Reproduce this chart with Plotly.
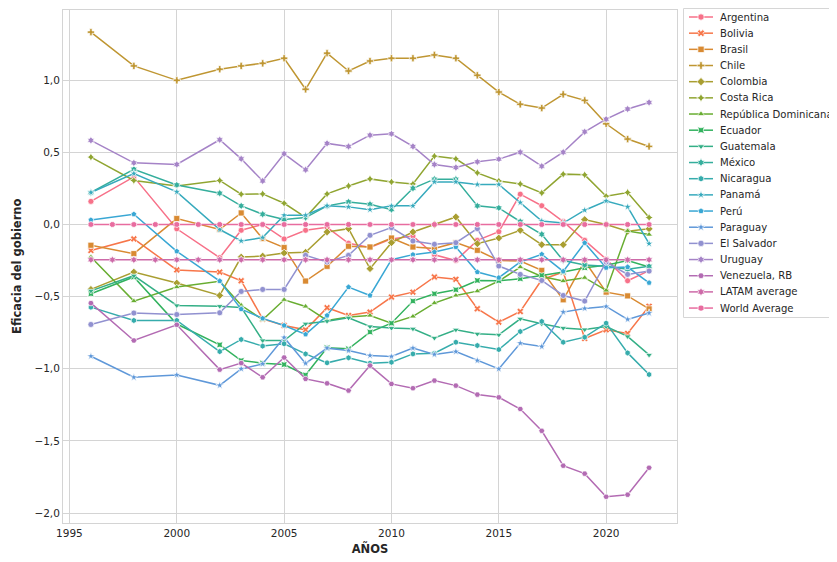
import math
import numpy as np
import plotly.graph_objects as go

YEARS = [1996, 1998, 2000, 2002, 2003, 2004, 2005, 2006, 2007, 2008, 2009, 2010,
         2011, 2012, 2013, 2014, 2015, 2016, 2017, 2018, 2019, 2020, 2021, 2022]
AVG_YEARS = list(range(1996, 2023))

argentina = [0.16, 0.33, -0.03, -0.23, -0.04, 0.00, -0.10, -0.04, -0.02, -0.13, -0.16, -0.10,
             -0.08, -0.21, -0.25, -0.11, -0.05, 0.21, 0.13, 0.02, -0.11, -0.24, -0.39, -0.32]
bolivia = [-0.18, -0.10, -0.315, -0.33, -0.39, -0.655, -0.70, -0.73, -0.577, -0.631, -0.607, -0.503,
           -0.469, -0.364, -0.38, -0.584, -0.677, -0.603, -0.383, -0.33, -0.79, -0.73, -0.755, -0.567]
brasil = [-0.144, -0.202, 0.041, -0.035, 0.080, -0.098, -0.160, -0.392, -0.290, -0.151, -0.156, -0.094,
          -0.156, -0.167, -0.126, -0.179, -0.249, -0.253, -0.318, -0.522, -0.253, -0.469, -0.495, -0.585]
chile = [1.333, 1.099, 0.999, 1.076, 1.099, 1.117, 1.152, 0.937, 1.187, 1.064, 1.133, 1.152,
         1.152, 1.175, 1.152, 1.034, 0.918, 0.833, 0.807, 0.902, 0.860, 0.698, 0.592, 0.541]
colombia = [-0.45, -0.33, -0.406, -0.492, -0.226, -0.219, -0.198, -0.193, -0.052, -0.029, -0.306, -0.126,
            -0.052, 0.0, 0.052, -0.133, -0.094, -0.040, -0.140, -0.140, 0.034, 0.0, -0.047, -0.03]
costa_rica = [0.467, 0.305, 0.267, 0.305, 0.210, 0.212, 0.147, 0.05, 0.212, 0.267, 0.316, 0.295,
              0.281, 0.474, 0.455, 0.358, 0.302, 0.281, 0.219, 0.349, 0.344, 0.196, 0.222, 0.048]
rep_dom = [-0.226, -0.531, -0.434, -0.394, -0.56, -0.66, -0.522, -0.568, -0.665, -0.642, -0.631, -0.684,
           -0.637, -0.545, -0.492, -0.462, -0.392, -0.295, -0.36, -0.392, -0.369, -0.457, -0.045, -0.07]
ecuador = [-0.48, -0.364, -0.69, -0.834, -0.943, -0.961, -0.971, -1.043, -0.855, -0.862, -0.746, -0.684,
           -0.531, -0.48, -0.452, -0.388, -0.39, -0.376, -0.353, -0.33, -0.30, -0.283, -0.249, -0.295]
guatemala = [-0.46, -0.355, -0.561, -0.566, -0.575, -0.804, -0.804, -0.688, -0.67, -0.647, -0.707, -0.718,
             -0.723, -0.786, -0.730, -0.758, -0.765, -0.654, -0.688, -0.718, -0.728, -0.707, -0.776, -0.904]
mexico = [0.222, 0.383, 0.274, 0.217, 0.129, 0.071, 0.034, 0.048, 0.129, 0.156, 0.140, 0.103,
          0.251, 0.314, 0.314, 0.129, 0.115, 0.02, -0.068, -0.25, -0.28, -0.29, -0.31, -0.29]
nicaragua = [-0.573, -0.665, -0.665, -0.881, -0.797, -0.843, -0.827, -0.897, -0.959, -0.924, -0.961, -0.955,
             -0.897, -0.892, -0.816, -0.839, -0.867, -0.742, -0.672, -0.816, -0.781, -0.684, -0.890, -1.040]
panama = [0.222, 0.353, 0.226, -0.035, -0.114, -0.091, 0.064, 0.064, 0.129, 0.122, 0.103, 0.129,
          0.129, 0.295, 0.295, 0.277, 0.277, 0.152, 0.024, 0.010, 0.099, 0.163, 0.122, -0.133]
peru = [0.031, 0.071, -0.186, -0.392, -0.587, -0.651, -0.700, -0.762, -0.631, -0.434, -0.492, -0.244,
        -0.209, -0.191, -0.156, -0.330, -0.369, -0.260, -0.207, -0.325, -0.128, -0.300, -0.295, -0.404]
paraguay = [-0.913, -1.059, -1.043, -1.115, -1.001, -0.966, -0.783, -0.963, -0.857, -0.874, -0.908, -0.915,
            -0.857, -0.901, -0.881, -0.943, -1.001, -0.823, -0.846, -0.607, -0.582, -0.568, -0.658, -0.614]
el_salvador = [-0.693, -0.614, -0.624, -0.612, -0.464, -0.450, -0.450, -0.214, -0.260, -0.214, -0.075, -0.022,
               -0.114, -0.137, -0.126, -0.029, -0.288, -0.346, -0.388, -0.492, -0.531, -0.260, -0.346, -0.323]
uruguay = [0.583, 0.427, 0.416, 0.587, 0.455, 0.302, 0.490, 0.379, 0.562, 0.541, 0.619, 0.628,
           0.541, 0.416, 0.395, 0.434, 0.453, 0.501, 0.404, 0.501, 0.642, 0.730, 0.800, 0.846]
venezuela = [-0.545, -0.804, -0.695, -1.006, -0.961, -1.059, -0.922, -1.070, -1.101, -1.151, -0.978, -1.105,
             -1.135, -1.082, -1.117, -1.179, -1.198, -1.279, -1.43, -1.672, -1.727, -1.887, -1.873, -1.686]
latam_average = [-0.245] * len(AVG_YEARS)
world_average = [0.0] * len(AVG_YEARS)

NAMES = ["Argentina", "Bolivia", "Brasil", "Chile", "Colombia", "Costa Rica",
         "República Dominicana", "Ecuador", "Guatemala", "México", "Nicaragua",
         "Panamá", "Perú", "Paraguay", "El Salvador", "Uruguay", "Venezuela, RB",
         "LATAM average", "World Average"]
SERIES = [argentina, bolivia, brasil, chile, colombia, costa_rica, rep_dom, ecuador,
          guatemala, mexico, nicaragua, panama, peru, paraguay, el_salvador, uruguay,
          venezuela, latam_average, world_average]
SYMBOLS = ["circle", "x", "square", "cross", "diamond", "star-diamond", "triangle-up",
           "star-square", "triangle-down", "hexagram", "hexagon", "star", "pentagon",
           "star", "circle", "hexagram", "hexagon2", "hexagram", "octagon"]


def husl_to_hex(h, s, l):
    m = [[3.2406, -1.5372, -0.4986], [-0.9689, 1.8758, 0.0415], [0.0557, -0.2040, 1.0570]]
    refU, refV = 0.19784, 0.46834
    lab_e, lab_k = 0.008856, 903.3
    L = l
    hrad = math.radians(h)
    sinH, cosH = math.sin(hrad), math.cos(hrad)
    sub1 = ((L + 16) ** 3) / 1560896.0
    sub2 = sub1 if sub1 > lab_e else L / lab_k
    result = float("inf")
    for m1, m2, m3 in m:
        top = (0.99915 * m1 + 1.05122 * m2 + 1.14460 * m3) * sub2
        rbottom = 0.86330 * m3 - 0.17266 * m2
        lbottom = 0.12949 * m3 - 0.38848 * m1
        bottom = (rbottom * sinH + lbottom * cosH) * sub2
        for t in (0.0, 1.0):
            C = L * (top - 1.05122 * t) / (bottom + 0.17266 * sinH * t)
            if 0 < C < result:
                result = C
    C = result / 100.0 * s
    U = math.cos(hrad) * C
    V = math.sin(hrad) * C
    t = (L + 16) / 116.0
    varY = t ** 3 if t ** 3 > lab_e else (116 * t - 16) / lab_k
    varU = U / (13 * L) + refU
    varV = V / (13 * L) + refV
    Y = varY
    X = -(9 * Y * varU) / ((varU - 4) * varV - varU * varV)
    Z = (9 * Y - 15 * varV * Y - varV * X) / (3 * varV)
    out = []
    for row in m:
        c = row[0] * X + row[1] * Y + row[2] * Z
        c = 12.92 * c if c <= 0.0031308 else 1.055 * c ** (1 / 2.4) - 0.055
        out.append(min(max(c, 0.0), 1.0))
    return "#%02x%02x%02x" % tuple(int(round(v * 255)) for v in out)


n = len(NAMES)
hues = (np.linspace(0, 1, n + 1)[:-1] + 0.01) % 1 * 359
COLORS = [husl_to_hex(h, 0.9 * 99, 0.65 * 99) for h in hues]
# the blue / purple / pink end of the palette is more muted in the reference
COLORS[13:] = ["#5f98d9", "#9191d0", "#a583c7", "#b36bb3", "#cd6aa8", "#e86c9f"]

# page has an 8px body margin: the figure is drawn 8px right/down of the window origin.
# All positions below are reference-window pixels, converted with OFF.
OFF = 8
W, H = 837 - OFF, 562 - OFF
PLOT_L, PLOT_R, PLOT_T, PLOT_B = 63, 677, 9.5, 523
LEG_L, LEG_R, LEG_T, LEG_B = 683, 833, 8, 318
ROW0, ROW_STEP = 17.0, 16.17


def fx(px):
    return (px - OFF) / W


def fy(py):
    return 1 - (py - OFF) / H


fig = go.Figure()
for i, (name, vals) in enumerate(zip(NAMES, SERIES)):
    xs = AVG_YEARS if len(vals) == len(AVG_YEARS) else YEARS
    fig.add_trace(go.Scatter(
        x=xs, y=vals, name=name, mode="lines+markers", showlegend=False,
        line=dict(color=COLORS[i], width=1.5),
        marker=dict(symbol=SYMBOLS[i], size=6, color=COLORS[i],
                    line=dict(color="white", width=0.7)),
    ))

# custom legend (drawn in its own pixel-unit axes)
annotations = []
for i, name in enumerate(NAMES):
    yy = ROW0 + i * ROW_STEP
    fig.add_trace(go.Scatter(
        x=[689, 713], y=[yy, yy], mode="lines", xaxis="x2", yaxis="y2",
        showlegend=False, hoverinfo="skip",
        line=dict(color=COLORS[i], width=1.5)))
    fig.add_trace(go.Scatter(
        x=[701], y=[yy], mode="markers", xaxis="x2", yaxis="y2",
        showlegend=False, hoverinfo="skip",
        marker=dict(symbol=SYMBOLS[i], size=6.3, color=COLORS[i],
                    line=dict(color="white", width=0.7))))
    annotations.append(dict(x=718, y=yy, xref="x2", yref="y2", text=name,
                            showarrow=False, xanchor="left", yanchor="middle",
                            font=dict(size=10.1, color="#262626")))

grid = "#d4d4d4"
fig.update_layout(
    width=W, height=H,
    margin=dict(l=0, r=0, t=0, b=0),
    paper_bgcolor="white", plot_bgcolor="white",
    separators=",.",
    font=dict(family="DejaVu Sans", color="#262626", size=10.5),
    showlegend=False,
    annotations=annotations,
    shapes=[dict(type="rect", xref="x2", yref="y2", x0=LEG_L + 0.5, x1=LEG_R - 0.5,
                 y0=LEG_T + 0.5, y1=LEG_B - 0.5,
                 line=dict(color="#d6d6d6", width=1), fillcolor="rgba(0,0,0,0)",
                 layer="below")],
    xaxis=dict(domain=[fx(PLOT_L), fx(PLOT_R)], range=[1994.7, 2023.3], dtick=5, tick0=1995,
               showgrid=True, gridcolor=grid, showline=True, mirror=True, linecolor=grid,
               zeroline=False, ticks="", automargin=False,
               title=dict(text="<b>AÑOS</b>", standoff=7, font=dict(size=11.5))),
    yaxis=dict(domain=[fy(PLOT_B), fy(PLOT_T)], range=[-2.069, 1.49], dtick=0.5, tick0=0,
               tickformat=".1f", showgrid=True, gridcolor=grid, showline=True, mirror=True,
               linecolor=grid, zeroline=False, ticks="", automargin=False,
               title=dict(text="<b>Eficacia del gobierno</b>", standoff=10,
                          font=dict(size=11.5))),
    xaxis2=dict(domain=[fx(LEG_L), fx(LEG_R)], range=[LEG_L, LEG_R], visible=False,
                anchor="y2", fixedrange=True),
    yaxis2=dict(domain=[fy(LEG_B), fy(LEG_T)], range=[LEG_B, LEG_T], visible=False,
                anchor="x2", fixedrange=True),
)

fig.write_html("out.html")
